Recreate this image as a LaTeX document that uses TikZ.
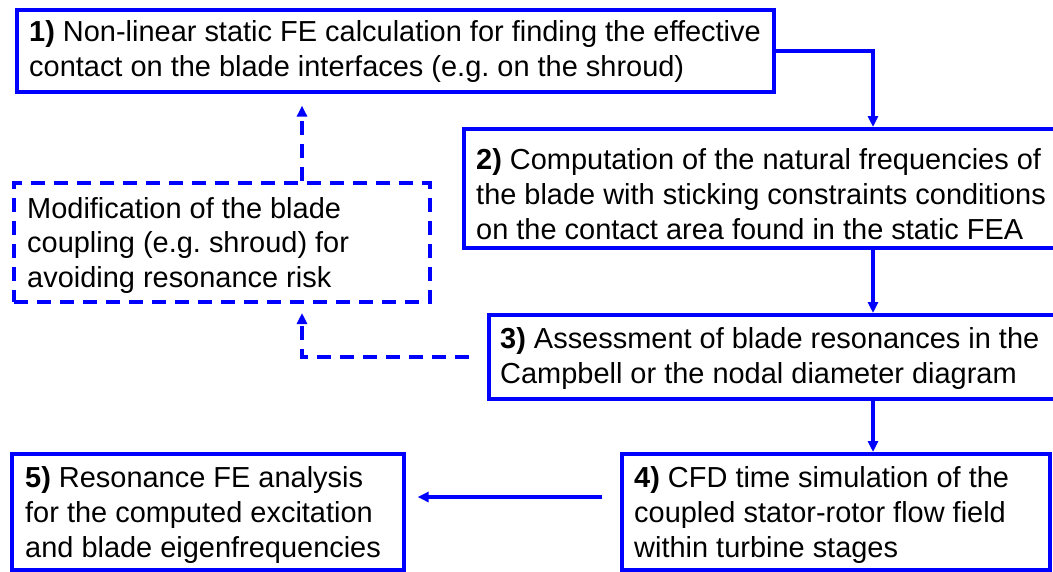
\documentclass[tikz,border=0pt]{standalone}
\usepackage{fontspec}
\setmainfont{Liberation Sans}
\usetikzlibrary{arrows.meta,calc}
\definecolor{myblue}{RGB}{0,0,255}
\frenchspacing
\begin{document}
\begin{tikzpicture}[x=1pt,y=-1pt,
  box/.style={draw=myblue, line width=3.6pt, anchor=north west, inner sep=0pt},
  dbox/.style={box, line width=4pt, dash pattern=on 14pt off 9pt},
  txt/.style={anchor=west, inner sep=0pt, align=left, font=\fontsize{28.95}{34.8}\selectfont, text=black},
  arr/.style={draw=myblue, line width=3.6pt, -{Triangle[length=11pt,width=10pt]}},
  darr/.style={arr, line width=4pt, dash pattern=on 14pt off 9pt}]
\useasboundingbox (0,0) rectangle (1053,571);
\node[box, minimum width=757pt, minimum height=82pt] (b1) at (15,8) {};
\node[box, minimum width=596pt, minimum height=119pt] (b2) at (462,127) {};
\node[box, minimum width=571pt, minimum height=84pt] (b3) at (487,313) {};
\node[box, minimum width=428pt, minimum height=116pt] (b4) at (620,452) {};
\node[box, minimum width=392pt, minimum height=116pt] (b5) at (10,452) {};
\node[dbox, minimum width=416pt, minimum height=119pt] (mod) at (12,181) {};
\node[txt] (t1) at ($(b1.west)+(14,1)$)
  {\textbf{1)} Non-linear static FE calculation for finding the effective\\contact on the blade interfaces (e.g. on the shroud)};
\node[txt] (t2) at ($(b2.west)+(14,6)$)
  {\textbf{2)} Computation of the natural frequencies of\\the blade with sticking constraints conditions\\on the contact area found in the static FEA};
\node[txt] (t3) at ($(b3.west)+(13,2)$)
  {\textbf{3)} Assessment of blade resonances in the\\Campbell or the nodal diameter diagram};
\node[txt] (t4) at ($(b4.west)+(14,3)$)
  {\textbf{4)} CFD time simulation of the\\coupled stator-rotor flow field\\within turbine stages};
\node[txt] (t5) at ($(b5.west)+(15,3)$)
  {\textbf{5)} Resonance FE analysis\\for the computed excitation\\and blade eigenfrequencies};
\node[txt] (tm) at ($(mod.west)+(15,3)$)
  {Modification of the blade\\coupling (e.g. shroud) for\\avoiding resonance risk};
\coordinate (ax) at (873,0);
\coordinate (ay) at (0,497);
\coordinate (bx) at (302,0);
\draw[arr] (b1.east) -| (b2.north -| ax);
\draw[arr] (b2.south -| ax) -- (b3.north -| ax);
\draw[arr] (b3.south -| ax) -- (b4.north -| ax);
\draw[arr, shorten <=18pt, shorten >=12pt] (b4.west |- ay) -- (b5.east |- ay);
\draw[darr, shorten <=18pt, shorten >=9pt] (b3.west) -| (mod.south -| bx);
\draw[darr, shorten >=12pt] (mod.north -| bx) -- (b1.south -| bx);
\end{tikzpicture}
\end{document}
